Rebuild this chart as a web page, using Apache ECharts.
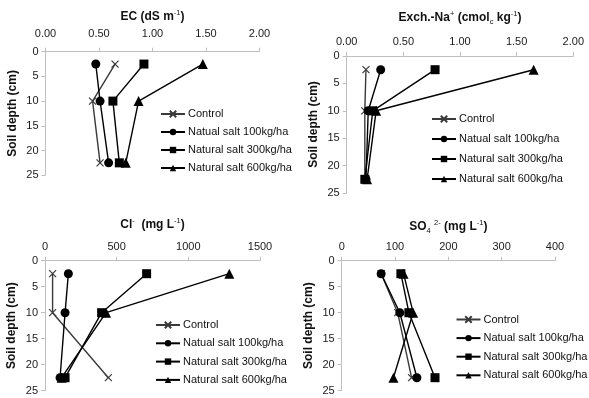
<!DOCTYPE html>
<html>
<head>
<meta charset="utf-8">
<script src="https://cdn.jsdelivr.net/npm/echarts@6/dist/echarts.min.js"></script>
<style>
  html, body { margin: 0; padding: 0; background: #fff; }
  #chart { width: 589px; height: 398px; }
</style>
</head>
<body>
<div id="chart"></div>
<script>
// depths (cm) of the three sampled layers
const depths = [2.5, 10, 22.5]
const depthTicks = [0, 5, 10, 15, 20, 25]
const seriesNames = ['Control', 'Natual salt 100kg/ha', 'Natural salt 300kg/ha', 'Natural salt 600kg/ha']

// EC (dS m-1)
const ecControl = [0.65, 0.44, 0.51]
const ec100 = [0.47, 0.51, 0.59]
const ec300 = [0.92, 0.63, 0.69]
const ec600 = [1.47, 0.87, 0.75]
const ecTicks = [0, 0.5, 1, 1.5, 2]

// Exch.-Na+ (cmolc kg-1)
const naControl = [0.17, 0.16, 0.16]
const na100 = [0.30, 0.19, 0.17]
const na300 = [0.78, 0.23, 0.16]
const na600 = [1.65, 0.26, 0.18]
const naTicks = [0, 0.5, 1, 1.5, 2]

// Cl- (mg L-1)
const clControl = [53, 53, 442]
const cl100 = [163, 140, 105]
const cl300 = [709, 395, 140]
const cl600 = [1286, 426, 116]
const clTicks = [0, 500, 1000, 1500]

// SO4 2- (mg L-1)
const soControl = [74, 105, 131]
const so100 = [74, 109, 141]
const so300 = [111, 126, 175]
const so600 = [116, 134, 97]
const soTicks = [0, 100, 200, 300, 400]

const panels = [
  {
    title: '{b|EC (dS m}{sup|-1}{b|)}',
    values: [ecControl, ec100, ec300, ec600],
    ticks: ecTicks,
    digits: 2,
    grid: { left: 45.5, top: 51.7, width: 214, height: 123.5 },
    nameGap: 27, labelMargin: 12,
    legend: { left: 160, top: 107, itemGap: 4 }
  },
  {
    title: '{b|Exch.-Na}{sup|+}{b| (cmol}{sub|c}{b| kg}{sup|-1}{b|)}',
    values: [naControl, na100, na300, na600],
    ticks: naTicks,
    digits: 2,
    grid: { left: 346.7, top: 56, width: 226.6, height: 137 },
    nameGap: 30, labelMargin: 9,
    legend: { left: 431, top: 112, itemGap: 6 }
  },
  {
    title: '{b|Cl}{sup|-}{b|  (mg L}{sup|-1}{b|)}',
    values: [clControl, cl100, cl300, cl600],
    ticks: clTicks,
    digits: 0,
    grid: { left: 45, top: 260.7, width: 215, height: 130 },
    nameGap: 28, labelMargin: 8,
    legend: { left: 155, top: 318, itemGap: 4.3 }
  },
  {
    title: '{b|SO}{sub|4}{b| }{sup|2-}{b| (mg L}{sup|-1}{b|)}',
    values: [soControl, so100, so300, so600],
    ticks: soTicks,
    digits: 0,
    grid: { left: 341.7, top: 260.7, width: 213.3, height: 130 },
    nameGap: 26, labelMargin: 8,
    legend: { left: 455.5, top: 312.5, itemGap: 4.6 }
  }
]

const symbols = [
  'path://M0,0L10,10M0,10L10,0',
  'circle',
  'rect',
  'triangle'
]
const symbolSizes = [7, 9, 9, 10]
const lineColors = ['#3a3a3a', '#000', '#000', '#000']

const fontFamily = '"Liberation Sans", Arial, sans-serif'

const titleRich = {
  b: { fontSize: 12, fontWeight: 'bold', color: '#111', fontFamily: fontFamily, lineHeight: 16, verticalAlign: 'middle' },
  sup: { fontSize: 7.5, fontWeight: 'normal', color: '#111', fontFamily: fontFamily, lineHeight: 16, verticalAlign: 'top', padding: [0, 0, 5, 0] },
  sub: { fontSize: 7.5, fontWeight: 'normal', color: '#111', fontFamily: fontFamily, lineHeight: 16, verticalAlign: 'bottom', padding: [5, 0, 0, 0] }
}

const chart = echarts.init(document.getElementById('chart'))

const grid = []
const xAxis = []
const yAxis = []
const legend = []
const series = []

panels.forEach((p, i) => {
  grid.push(p.grid)
  const step = p.ticks[1] - p.ticks[0]
  xAxis.push({
    gridIndex: i,
    type: 'value',
    position: 'top',
    min: p.ticks[0],
    max: p.ticks[p.ticks.length - 1],
    interval: step,
    name: p.title,
    nameLocation: 'middle',
    nameGap: p.nameGap,
    nameTextStyle: { rich: titleRich },
    axisLine: { show: true, lineStyle: { color: '#bfbfbf', width: 1 } },
    axisTick: { show: true, length: 4, lineStyle: { color: '#bfbfbf' } },
    axisLabel: {
      margin: p.labelMargin,
      fontSize: 11,
      color: '#1a1a1a',
      fontFamily: fontFamily,
      formatter: v => v.toFixed(p.digits)
    },
    splitLine: { show: false }
  })
  yAxis.push({
    gridIndex: i,
    type: 'value',
    inverse: true,
    min: depthTicks[0],
    max: depthTicks[depthTicks.length - 1],
    interval: depthTicks[1] - depthTicks[0],
    name: 'Soil depth (cm)',
    nameLocation: 'middle',
    nameGap: 27,
    nameTextStyle: { fontSize: 12, fontWeight: 'bold', color: '#111', fontFamily: fontFamily },
    axisLine: { show: true, lineStyle: { color: '#bfbfbf', width: 1 } },
    axisTick: { show: true, length: 4, lineStyle: { color: '#bfbfbf' } },
    axisLabel: { margin: 7, fontSize: 11, color: '#1a1a1a', fontFamily: fontFamily },
    splitLine: { show: false }
  })
  legend.push({
    orient: 'vertical',
    left: p.legend.left,
    top: p.legend.top,
    itemGap: p.legend.itemGap,
    itemWidth: 24,
    itemHeight: 8,
    padding: 0,
    data: seriesNames,
    selectedMode: false,
    textStyle: { fontSize: 11, color: '#111', fontFamily: fontFamily, lineHeight: 14, padding: [0, 0, 0, -2] }
  })
  p.values.forEach((vals, k) => {
    series.push({
      name: seriesNames[k],
      type: 'line',
      xAxisIndex: i,
      yAxisIndex: i,
      data: vals.map((v, j) => [v, depths[j]]),
      symbol: symbols[k],
      symbolSize: symbolSizes[k],
      showAllSymbol: true,
      animation: false,
      lineStyle: { color: lineColors[k], width: 1.4 },
      itemStyle: k === 0
        ? { color: '#3a3a3a', borderColor: '#3a3a3a', borderWidth: 1.2 }
        : { color: '#000', borderColor: '#000', borderWidth: 0 },
      emphasis: { disabled: true }
    })
  })
})

chart.setOption({
  animation: false,
  grid: grid,
  xAxis: xAxis,
  yAxis: yAxis,
  legend: legend,
  series: series
})
</script>
</body>
</html>
